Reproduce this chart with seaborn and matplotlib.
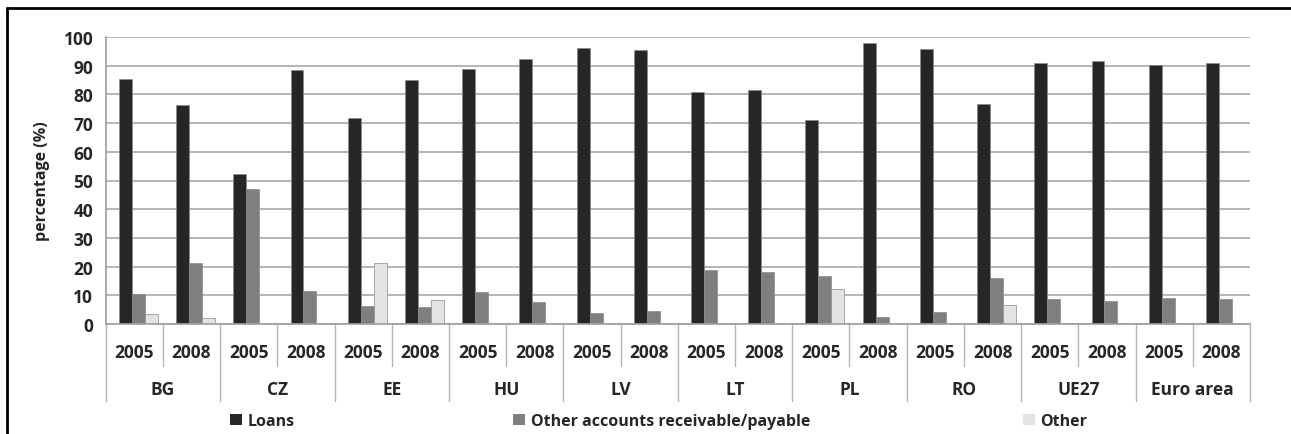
import pandas as pd
import matplotlib
matplotlib.use("Agg")
import matplotlib.pyplot as plt
from matplotlib.lines import Line2D
from matplotlib.patches import Patch
import seaborn as sns

# Data (share of liabilities, %)
countries = ["BG", "CZ", "EE", "HU", "LV", "LT", "PL", "RO", "UE27", "Euro area"]
years = ["2005", "2008"]
series = ["Loans", "Other accounts receivable/payable", "Other"]

loans = [85.4, 76.3, 52.3, 88.5, 71.8, 85.0, 88.8, 92.3, 96.0, 95.5,
         81.0, 81.5, 71.0, 97.9, 95.8, 76.8, 90.9, 91.5, 90.2, 90.8]
other_accounts = [10.5, 21.3, 47.0, 11.5, 6.3, 6.0, 11.2, 7.7, 3.8, 4.5,
                  18.8, 18.1, 16.7, 2.3, 4.2, 16.2, 8.7, 8.0, 9.2, 8.7]
other = [3.5, 2.0, 0.0, 0.0, 21.3, 8.4, 0.0, 0.0, 0.0, 0.0,
         0.0, 0.0, 12.2, 0.0, 0.0, 6.6, 0.5, 0.5, 0.5, 0.5]

COLORS = {"Loans": "#262626",
          "Other accounts receivable/payable": "#7f7f7f",
          "Other": "#e3e3e3"}

slots = [f"{c}|{y}" for c in countries for y in years]
rows = []
for name, vals in zip(series, [loans, other_accounts, other]):
    for s, v in zip(slots, vals):
        rows.append({"slot": s, "series": name, "value": v})
df = pd.DataFrame(rows)

sns.set_theme(style="white")
plt.rcParams["font.family"] = ["Open Sans", "DejaVu Sans"]
plt.rcParams["font.weight"] = "bold"
FS = 12.5      # axis / category labels
FS_LEG = 11.5  # legend

W, H = 1291, 435
fig = plt.figure(figsize=(W / 100, H / 100), dpi=100)
x0, x1, y0, y1 = 105.7, 1250, 325, 38
ax = fig.add_axes([x0 / W, 1 - y0 / H, (x1 - x0) / W, (y0 - y1) / H])

sns.barplot(data=df, x="slot", y="value", hue="series", order=slots,
            hue_order=series, palette=COLORS, width=0.68, ax=ax,
            edgecolor="#8a8a8a", linewidth=0.5, legend=False, saturation=1)
# the original bars sit a little right of the slot centre (3-D depth)
for p in ax.patches:
    p.set_x(p.get_x() + 0.07)

ax.set_xlim(-0.5, len(slots) - 0.5)
ax.set_ylim(0, 100)
ax.set_yticks(range(0, 101, 10))
ax.tick_params(axis="y", labelsize=FS, length=4, color="#a0a0a0", pad=5)
for lab in ax.get_yticklabels():
    lab.set_fontweight("bold")
ax.yaxis.grid(True, color="#b4b4b4", linewidth=1.4)
ax.set_axisbelow(True)
ax.set_xticks([])
ax.set_xlabel("")
ax.set_ylabel("percentage (%)", fontsize=11.5, fontweight="bold", labelpad=10)
for side in ["top", "right"]:
    ax.spines[side].set_visible(False)
ax.spines["left"].set_color("#a0a0a0")
ax.spines["bottom"].set_color("#a0a0a0")

# two-level category axis
h = y0 - y1
tr = ax.get_xaxis_transform()
year_y = -(353 - y0) / h
grp_y = -(390 - y0) / h
year_bot = -(367 - y0) / h
grp_bot = -(402 - y0) / h
for i, s in enumerate(slots):
    c, yr = s.split("|")
    ax.text(i, year_y, yr, transform=tr, ha="center", va="center",
            fontsize=FS, fontweight="bold")
for g, c in enumerate(countries):
    ax.text(2 * g + 0.5, grp_y, c, transform=tr, ha="center", va="center",
            fontsize=FS, fontweight="bold")
    ax.add_line(Line2D([2 * g + 0.5] * 2, [0, year_bot], transform=tr,
                       color="#b4b4b4", lw=1, clip_on=False))
for g in range(len(countries) + 1):
    ax.add_line(Line2D([2 * g - 0.5] * 2, [0, grp_bot], transform=tr,
                       color="#b4b4b4", lw=1, clip_on=False))

# legend entries spaced out like the original
for name, xpos in zip(series, [230, 513, 1023]):
    fig.legend(handles=[Patch(facecolor=COLORS[name], edgecolor="none")],
               labels=[name], loc="center left",
               bbox_to_anchor=(xpos / W, 1 - 422 / H), frameon=False,
               borderpad=0, borderaxespad=0, handlelength=0.75,
               handleheight=0.75, handletextpad=0.35,
               prop={"size": FS_LEG, "weight": "bold"})

# outer frame (left and top edges visible)
fig.add_artist(Line2D([7 / W, 7 / W], [0, 1 - 9 / H], transform=fig.transFigure,
                      color="black", lw=2))
fig.add_artist(Line2D([7 / W, 1], [1 - 9 / H, 1 - 9 / H], transform=fig.transFigure,
                      color="black", lw=2))

fig.savefig("out.png", dpi=100)
